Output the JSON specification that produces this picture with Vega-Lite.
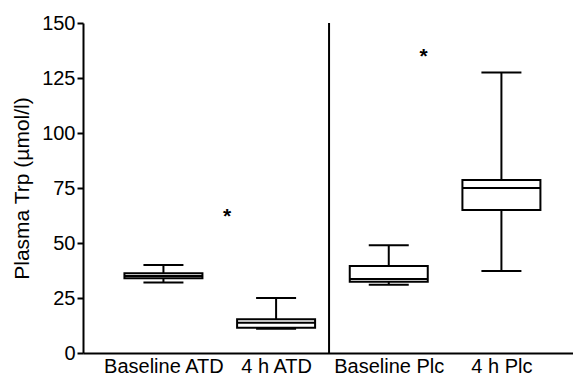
{
  "$schema": "https://vega.github.io/schema/vega-lite/v6.json",
  "width": 490,
  "height": 330,
  "autosize": "none",
  "padding": {"left": 83, "top": 23, "right": 0, "bottom": 23},
  "background": "white",
  "config": {
    "view": {"stroke": null},
    "font": "Liberation Sans",
    "axis": {"grid": false, "domainColor": "black", "domainWidth": 2, "tickColor": "black", "labelColor": "black", "titleColor": "black", "labelFont": "Liberation Sans", "titleFont": "Liberation Sans"}
  },
  "datasets": {
    "boxes": [
      {"pos": 1, "group": "Baseline ATD", "lower": 32, "q1": 34, "median": 35, "q3": 36.2, "upper": 40},
      {"pos": 2, "group": "4 h ATD", "lower": 11, "q1": 11.5, "median": 13.8, "q3": 15.3, "upper": 25},
      {"pos": 3, "group": "Baseline Plc", "lower": 31, "q1": 32.4, "median": 33.6, "q3": 39.5, "upper": 49},
      {"pos": 4, "group": "4 h Plc", "lower": 37.3, "q1": 65, "median": 75, "q3": 78.6, "upper": 127.5}
    ],
    "stars": [
      {"pos": 1.565, "value": 62},
      {"pos": 3.31, "value": 134.5}
    ]
  },
  "encoding": {
    "x": {
      "field": "pos", "type": "quantitative",
      "scale": {"domain": [0.3304, 4.591], "nice": false, "zero": false},
      "axis": {
        "title": null, "values": [1, 2, 3, 4], "ticks": false, "labelPadding": 3,
        "labelFontSize": 20, "labelFlush": false,
        "labelExpr": "['Baseline ATD','4 h ATD','Baseline Plc','4 h Plc'][datum.value - 1]"
      }
    }
  },
  "layer": [
    {
      "data": {"values": [{"pos": 2.47}]},
      "mark": {"type": "rule", "color": "black", "strokeWidth": 2},
      "encoding": {}
    },
    {
      "data": {"name": "boxes"},
      "mark": {"type": "rule", "color": "black", "strokeWidth": 2},
      "encoding": {
        "y": {"field": "lower", "type": "quantitative",
          "scale": {"domain": [0, 150], "nice": false},
          "axis": {"title": "Plasma Trp (µmol/l)", "values": [0, 25, 50, 75, 100, 125, 150], "tickSize": 6, "tickWidth": 2, "labelFontSize": 20, "titleFontSize": 21, "titleFontWeight": "normal", "labelPadding": 2, "titlePadding": 9}},
        "y2": {"field": "upper"}
      }
    },
    {
      "data": {"name": "boxes"},
      "mark": {"type": "bar", "width": 78, "fill": "white", "stroke": "black", "strokeWidth": 2},
      "encoding": {
        "y": {"field": "q1", "type": "quantitative"},
        "y2": {"field": "q3"}
      }
    },
    {
      "data": {"name": "boxes"},
      "mark": {"type": "tick", "orient": "horizontal", "size": 78, "thickness": 2, "color": "black", "opacity": 1},
      "encoding": {"y": {"field": "median", "type": "quantitative"}}
    },
    {
      "data": {"name": "boxes"},
      "mark": {"type": "tick", "orient": "horizontal", "size": 40, "thickness": 2, "color": "black", "opacity": 1},
      "encoding": {"y": {"field": "upper", "type": "quantitative"}}
    },
    {
      "data": {"name": "boxes"},
      "mark": {"type": "tick", "orient": "horizontal", "size": 40, "thickness": 2, "color": "black", "opacity": 1},
      "encoding": {"y": {"field": "lower", "type": "quantitative"}}
    },
    {
      "data": {"name": "stars"},
      "mark": {"type": "text", "text": "*", "fontSize": 21, "fontWeight": "bold", "color": "black", "baseline": "middle", "align": "center"},
      "encoding": {"y": {"field": "value", "type": "quantitative"}}
    }
  ]
}
